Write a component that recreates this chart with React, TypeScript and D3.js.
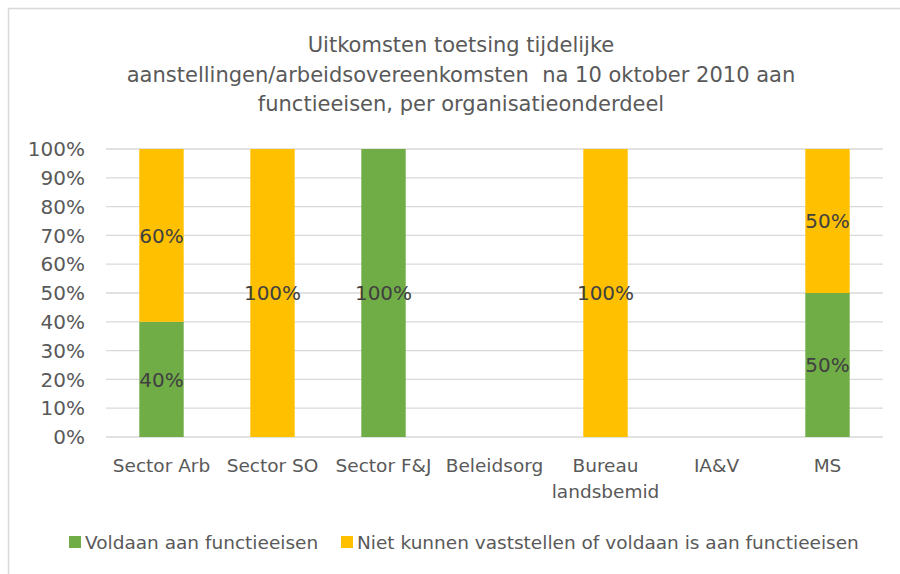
import { useEffect, useRef } from 'react';
import * as d3 from 'd3';

const categories = [
  ['Sector Arb'],
  ['Sector SO'],
  ['Sector F&J'],
  ['Beleidsorg'],
  ['Bureau', 'landsbemid'],
  ['IA&V'],
  ['MS'],
];
// share per category, null = no data
const voldaan = [0.4, 0, 1, null, 0, null, 0.5];
const nietVastgesteld = [0.6, 1, 0, null, 1, null, 0.5];
const yTicks = [0, 0.1, 0.2, 0.3, 0.4, 0.5, 0.6, 0.7, 0.8, 0.9, 1];
const titleLines = [
  'Uitkomsten toetsing tijdelijke',
  'aanstellingen/arbeidsovereenkomsten  na 10 oktober 2010 aan',
  'functieeisen, per organisatieonderdeel',
];
const seriesNames = ['Voldaan aan functieeisen', 'Niet kunnen vaststellen of voldaan is aan functieeisen'];

const GREEN = '#70AD47';
const YELLOW = '#FFC000';
const TEXT = '#595959';
const FONT = "'DejaVu Sans', sans-serif";

const App = () => {
  const svgRef = useRef<SVGSVGElement>(null);

  useEffect(() => {
    const width = 900;
    const height = 574;
    const margin = { top: 149, right: 17, bottom: 137, left: 106 };

    const svg = d3.select(svgRef.current).attr('width', width).attr('height', height);
    svg.selectAll('*').remove();

    // chart border (right/bottom edges fall outside the picture)
    svg.append('rect')
      .attr('x', 8.5).attr('y', 8.5)
      .attr('width', width + 10).attr('height', height + 10)
      .attr('fill', 'white')
      .attr('stroke', '#D9D9D9')
      .attr('stroke-width', 1.5);

    // title
    svg.append('text')
      .attr('text-anchor', 'middle')
      .style('font-family', FONT)
      .style('font-size', '21px')
      .style('fill', TEXT)
      .selectAll('tspan')
      .data(titleLines)
      .enter()
      .append('tspan')
      .attr('x', 461)
      .attr('y', (d, i) => 52 + i * 29.5)
      .attr('xml:space', 'preserve')
      .style('white-space', 'pre')
      .text(d => d);

    const innerW = width - margin.left - margin.right;
    const innerH = height - margin.top - margin.bottom;

    const x = d3.scaleBand<number>()
      .domain(d3.range(categories.length))
      .range([0, innerW])
      .paddingInner(0.6)
      .paddingOuter(0.3);

    const y = d3.scaleLinear().domain([0, 1]).range([innerH, 0]);

    const g = svg.append('g').attr('transform', `translate(${margin.left}, ${margin.top})`);

    // gridlines
    g.selectAll('.grid')
      .data(yTicks)
      .enter()
      .append('line')
      .attr('x1', 0).attr('x2', innerW)
      .attr('y1', d => y(d)).attr('y2', d => y(d))
      .attr('stroke', '#D9D9D9')
      .attr('stroke-width', 1.3);

    // y labels
    g.selectAll('.ytick')
      .data(yTicks)
      .enter()
      .append('text')
      .attr('x', -21)
      .attr('y', d => y(d))
      .attr('dy', '0.36em')
      .attr('text-anchor', 'end')
      .style('font-family', FONT)
      .style('font-size', '20px')
      .style('fill', TEXT)
      .text(d => d3.format('.0%')(d));

    // stacked bars
    const segments = categories.flatMap((c, i) => {
      const a = voldaan[i];
      const b = nietVastgesteld[i];
      if (a == null || b == null) return [];
      return [
        { i, y0: 0, y1: a, v: a, color: GREEN },
        { i, y0: a, y1: a + b, v: b, color: YELLOW },
      ].filter(s => s.v > 0);
    });

    g.selectAll('.bar')
      .data(segments)
      .enter()
      .append('rect')
      .attr('x', d => x(d.i)!)
      .attr('y', d => y(d.y1))
      .attr('width', x.bandwidth())
      .attr('height', d => y(d.y0) - y(d.y1))
      .attr('fill', d => d.color);

    g.selectAll('.val')
      .data(segments)
      .enter()
      .append('text')
      .attr('x', d => x(d.i)! + x.bandwidth() / 2)
      .attr('y', d => y((d.y0 + d.y1) / 2))
      .attr('dy', '0.36em')
      .attr('text-anchor', 'middle')
      .style('font-family', FONT)
      .style('font-size', '20px')
      .style('fill', '#404040')
      .text(d => d3.format('.0%')(d.v));

    // category labels
    const cat = g.selectAll('.cat')
      .data(categories)
      .enter()
      .append('text')
      .attr('text-anchor', 'middle')
      .style('font-family', FONT)
      .style('font-size', '18.5px')
      .style('fill', TEXT);
    cat.selectAll('tspan')
      .data((d, i) => d.map(t => ({ t, i })))
      .enter()
      .append('tspan')
      .attr('x', d => x(d.i)! + x.bandwidth() / 2)
      .attr('y', (d, j) => innerH + 35 + j * 26)
      .text(d => d.t);

    // legend
    const legend = svg.append('g').attr('transform', 'translate(69, 542)');
    const items = [
      { name: seriesNames[0], color: GREEN, x: 0 },
      { name: seriesNames[1], color: YELLOW, x: 272 },
    ];
    const li = legend.selectAll('.li').data(items).enter().append('g')
      .attr('transform', d => `translate(${d.x}, 0)`);
    li.append('rect')
      .attr('x', 0).attr('y', -6)
      .attr('width', 12).attr('height', 12)
      .attr('fill', d => d.color);
    li.append('text')
      .attr('x', 16)
      .attr('dy', '0.36em')
      .style('font-family', FONT)
      .style('font-size', '18.5px')
      .style('fill', TEXT)
      .text(d => d.name);
  }, []);

  return <svg ref={svgRef} style={{ position: 'absolute', left: 0, top: 0 }} />;
};

export default App;
